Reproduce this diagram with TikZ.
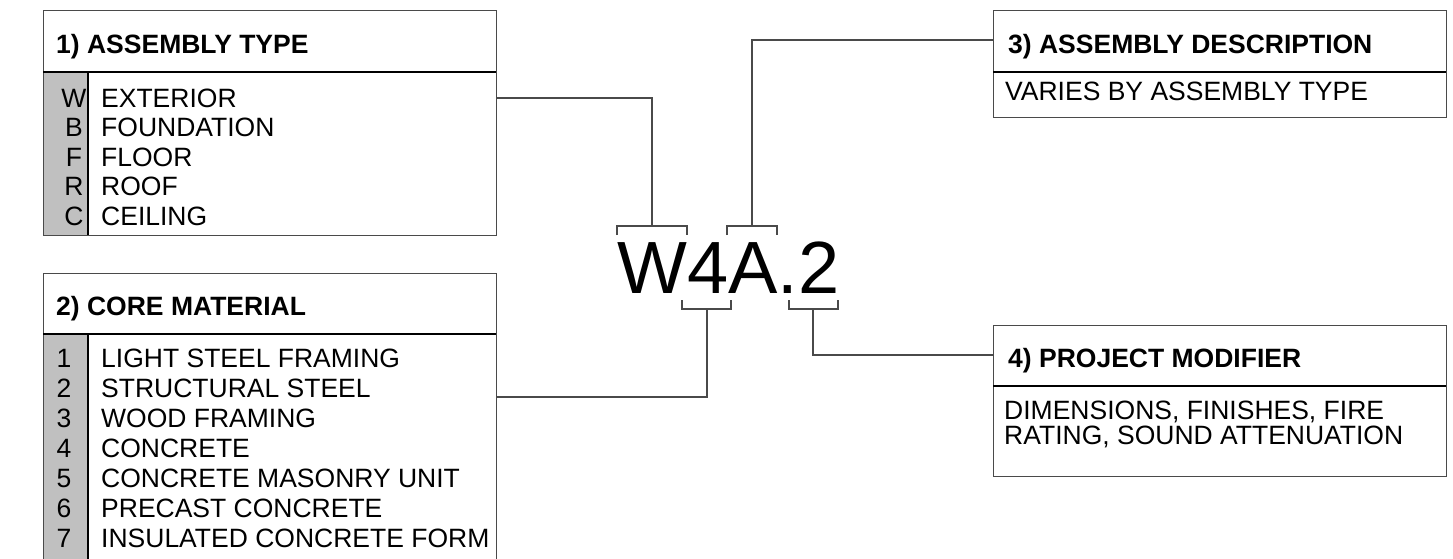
\documentclass[tikz,border=0pt]{standalone}
\usepackage{fontspec}
\setmainfont{Liberation Sans}
\definecolor{codegray}{HTML}{C0C0C0}
\definecolor{linegray}{HTML}{4A4A4A}
\tikzset{
  frame/.style={draw=linegray, line width=1.3pt, inner sep=0pt, anchor=north west},
  rule/.style={draw=black, line width=1.1pt},
  link/.style={draw=linegray, line width=1.1pt},
  head/.style={anchor=base west, inner sep=0pt, font=\fontsize{26.5}{30}\selectfont\bfseries},
  item/.style={anchor=base west, inner sep=0pt, font=\fontsize{26.5}{30}\selectfont},
  code/.style={anchor=base, inner sep=0pt, font=\fontsize{26.5}{30}\selectfont},
}
\begin{document}
\begin{tikzpicture}[x=1pt, y=-1pt]
    % --- 画布范围 (像素坐标, y 向下) ---
    \clip (0,0) rectangle (1453,558);
    \def\boxW{453}      % 方框宽度
    \def\colR{88}       % 灰色代码列右边

    % --- 灰色代码列 ---
    \fill[codegray] (43,72) rectangle (\colR,235);
    \fill[codegray] (43,334) rectangle (\colR,580);

    % --- 四个方框 ---
    \node[frame, minimum width=\boxW pt, minimum height=225pt] (typeBox) at (43,10) {};
    \node[frame, minimum width=\boxW pt, minimum height=307pt] (coreBox) at (43,273) {};
    \node[frame, minimum width=\boxW pt, minimum height=107pt] (descBox) at (993,10) {};
    \node[frame, minimum width=\boxW pt, minimum height=151pt] (modBox) at (993,325) {};

    % 标题分隔线和代码列边线
    \draw[rule] (43,72) -- (496,72);
    \draw[rule] (43,334) -- (496,334);
    \draw[rule] (993,72) -- (1446,72);
    \draw[rule] (993,386) -- (1446,386);
    \draw[rule] (\colR,72) -- (\colR,235);
    \draw[rule] (\colR,334) -- (\colR,580);

    % --- 标题 ---
    \node[head] (typeHead) at (56,53) {1) ASSEMBLY TYPE};
    \node[head] (coreHead) at (56,315) {2) CORE MATERIAL};
    \node[head] (descHead) at (1008,53) {3) ASSEMBLY DESCRIPTION};
    \node[head] (modHead) at (1008,367) {4) PROJECT MODIFIER};

    % --- 1) 类型列表 ---
    \foreach \c/\t [count=\i from 0] in {W/EXTERIOR, B/FOUNDATION, F/FLOOR, R/ROOF, C/CEILING} {
        \node[code] (type\c) at (74,{107+29.5*\i}) {\c};
        \node[item] (typeItem\i) at (101,{107+29.5*\i}) {\t};
    }

    % --- 2) 材料列表 ---
    \foreach \t [count=\i] in {LIGHT STEEL FRAMING, STRUCTURAL STEEL, WOOD FRAMING, CONCRETE,
        CONCRETE MASONRY UNIT, PRECAST CONCRETE, INSULATED CONCRETE FORM} {
        \node[code] (core\i) at (64,{337+30*\i}) {\i};
        \node[item] (coreItem\i) at (101,{337+30*\i}) {\t};
    }

    % --- 3) 和 4) 说明文字 ---
    \node[item] (descText) at (1005,100) {VARIES BY ASSEMBLY TYPE};
    \node[item] (modTextA) at (1004,419) {DIMENSIONS, FINISHES, FIRE};
    \node[item] (modTextB) at (1004,444) {RATING, SOUND ATTENUATION};

    % --- 中间的编号 ---
    \node[anchor=base west, inner sep=0pt, font=\fontsize{74}{80}\selectfont] (tag) at (617,293) {W4A.2};

    % --- 括号 ---
    \foreach \a/\b in {617/687, 727/777}
        \draw[link] (\a,235) |- (\b,226) -- (\b,235);
    \foreach \a/\b in {682/731, 789/838}
        \draw[link] (\a,300) |- (\b,309) -- (\b,300);

    % --- 连接点 ---
    \coordinate (wBr) at (652,226);
    \coordinate (aBr) at (752,226);
    \coordinate (fourBr) at (707,309);
    \coordinate (twoBr) at (813,309);
    \coordinate (typeTap) at (typeBox.east |- 0,98);
    \coordinate (coreTap) at (coreBox.east |- 0,397);
    \coordinate (descTap) at (descBox.west |- 0,40);
    \coordinate (modTap) at (modBox.west |- 0,355);

    % --- 连接线 ---
    \draw[link] (typeTap) -| (wBr);
    \draw[link] (aBr) |- (descTap);
    \draw[link] (coreTap) -| (fourBr);
    \draw[link] (twoBr) |- (modTap);

\end{tikzpicture}
\end{document}
